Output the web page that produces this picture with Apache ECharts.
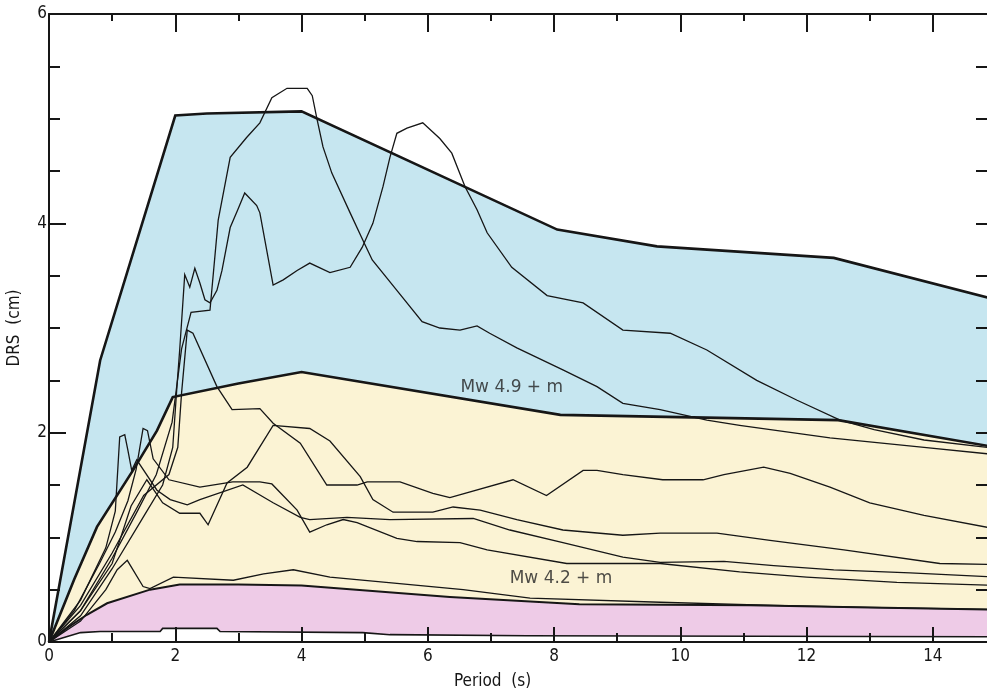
<!DOCTYPE html>
<html>
<head>
<meta charset="utf-8">
<script src="https://cdn.jsdelivr.net/npm/echarts@6/dist/echarts.min.js"></script>
<style>
  html, body { margin: 0; padding: 0; background: #ffffff; }
  #main { width: 987px; height: 697px; }
</style>
</head>
<body>
<div id="main"></div>
<script>
// Displacement response spectra: period (s) vs DRS (cm)
// Envelope curves bounding the magnitude bands
const blueEnvelope = [[0,0],[0.81,2.69],[2.0,5.03],[2.5,5.05],[4.0,5.07],[8.05,3.94],[9.63,3.78],[12.43,3.67],[15,3.27]];
const yellowEnvelope = [[0,0],[0.4,0.6],[0.76,1.10],[1.33,1.64],[1.71,2.02],[1.96,2.34],[3.0,2.47],[4.0,2.58],[8.1,2.17],[12.5,2.12],[15,1.86]];
const pinkEnvelope = [[0,0],[0.3,0.14],[0.6,0.26],[0.92,0.37],[1.6,0.50],[2.07,0.55],[3.0,0.55],[4.0,0.54],[6.35,0.43],[8.4,0.36],[11.1,0.35],[13,0.33],[15,0.31]];
const pinkFloor = [[0,0],[0.5,0.09],[0.81,0.10],[1.76,0.10],[1.8,0.13],[2.66,0.13],[2.71,0.10],[4.97,0.09],[5.4,0.07],[7.57,0.06],[15,0.05]];

// Recorded spectra
const record1 = [[0,0],[0.5,0.3],[1.0,0.8],[1.4,1.25],[1.7,1.6],[1.95,2.1],[2.1,2.8],[2.25,3.15],[2.55,3.17],[2.68,4.03],[2.87,4.63],[3.13,4.82],[3.34,4.96],[3.53,5.2],[3.77,5.29],[4.09,5.29],[4.17,5.22],[4.24,5.01],[4.34,4.73],[4.48,4.48],[4.77,4.1],[4.97,3.84],[5.12,3.65],[5.51,3.36],[5.91,3.06],[6.19,3.0],[6.51,2.98],[6.78,3.02],[6.98,2.95],[7.41,2.81],[8.14,2.6],[8.68,2.44],[9.09,2.28],[9.68,2.22],[10.42,2.12],[10.94,2.07],[12.37,1.95],[13.86,1.86],[15,1.79]];
const record2 = [[0,0],[0.5,0.25],[1.0,0.7],[1.5,1.2],[1.8,1.5],[1.96,1.86],[2.03,2.47],[2.07,2.79],[2.15,3.51],[2.23,3.39],[2.31,3.57],[2.39,3.43],[2.47,3.27],[2.55,3.24],[2.66,3.36],[2.74,3.55],[2.87,3.96],[2.99,4.13],[3.10,4.29],[3.29,4.17],[3.34,4.10],[3.55,3.41],[3.71,3.46],[3.93,3.55],[4.13,3.62],[4.45,3.53],[4.77,3.58],[4.96,3.77],[5.13,4.0],[5.29,4.35],[5.40,4.63],[5.51,4.86],[5.67,4.91],[5.92,4.96],[6.19,4.81],[6.38,4.67],[6.59,4.35],[6.78,4.13],[6.94,3.91],[7.33,3.58],[7.89,3.31],[8.46,3.24],[9.09,2.98],[9.84,2.95],[10.42,2.79],[11.21,2.50],[11.85,2.31],[12.53,2.12],[13.07,2.03],[13.86,1.93],[15,1.85]];
const record3 = [[0,0],[0.5,0.35],[1.0,0.85],[1.5,1.4],[1.9,1.6],[2.04,1.86],[2.1,2.38],[2.19,2.98],[2.28,2.95],[2.66,2.44],[2.9,2.22],[3.34,2.23],[3.55,2.09],[3.98,1.90],[4.4,1.50],[4.88,1.50],[5.04,1.53],[5.56,1.53],[6.08,1.42],[6.35,1.38],[7.35,1.55],[7.88,1.40],[8.46,1.64],[8.68,1.64],[9.09,1.60],[9.72,1.55],[10.36,1.55],[10.69,1.6],[11.32,1.67],[11.74,1.61],[12.37,1.48],[13.0,1.33],[13.86,1.21],[15,1.08]];
const record4 = [[0,0],[0.5,0.3],[1.0,0.75],[1.3,1.3],[1.55,1.55],[1.8,1.33],[2.07,1.23],[2.39,1.23],[2.52,1.12],[2.82,1.52],[3.14,1.67],[3.55,2.07],[4.13,2.04],[4.45,1.92],[4.93,1.58],[5.13,1.36],[5.45,1.24],[6.08,1.24],[6.4,1.29],[6.83,1.26],[7.41,1.17],[8.14,1.07],[9.09,1.02],[9.68,1.04],[10.58,1.04],[11.42,0.97],[12.59,0.88],[14.11,0.75],[15,0.74]];
const record5 = [[0,0],[0.5,0.4],[0.9,0.9],[1.05,1.25],[1.12,1.96],[1.2,1.98],[1.25,1.83],[1.31,1.64],[1.39,1.74],[1.71,1.45],[1.92,1.36],[2.19,1.31],[2.39,1.36],[3.07,1.50],[3.55,1.33],[3.98,1.19],[4.13,1.17],[4.72,1.19],[5.4,1.17],[6.72,1.18],[7.3,1.07],[8.14,0.95],[9.09,0.81],[9.68,0.76],[10.69,0.77],[11.48,0.73],[12.43,0.69],[13.64,0.66],[15,0.62]];
const record6 = [[0,0],[0.4,0.3],[0.8,0.75],[1.05,1.05],[1.25,1.35],[1.38,1.65],[1.49,2.04],[1.56,2.02],[1.65,1.75],[1.9,1.55],[2.39,1.48],[2.91,1.53],[3.34,1.53],[3.53,1.51],[3.93,1.26],[4.13,1.05],[4.4,1.12],[4.66,1.17],[4.88,1.14],[5.51,0.99],[5.83,0.96],[6.51,0.95],[6.94,0.88],[8.2,0.75],[9.68,0.75],[10.94,0.67],[12.0,0.62],[13.43,0.57],[15,0.54]];
const record7 = [[0,0],[0.5,0.2],[0.9,0.5],[1.08,0.69],[1.24,0.78],[1.49,0.53],[1.6,0.51],[1.97,0.62],[2.92,0.59],[3.4,0.65],[3.87,0.69],[4.45,0.62],[5.51,0.56],[6.56,0.50],[7.62,0.42],[9.68,0.38],[11.48,0.35],[12.96,0.33],[15,0.31]];

// Band labels and where they sit (period, DRS)
const bandLabels = ['Mw 4.9 + m', 'Mw 4.2 + m'];
const bandLabelAt = [[7.33, 2.43], [8.11, 0.61]];

const xMajorTicks = 2;
const yMajorTicks = 2;

const FONT = "'Liberation Sans Narrow','DejaVu Sans Condensed','Liberation Sans',sans-serif";
const INK = '#161616';

function fill(data, color) {
  return {
    type: 'line', data: data, symbol: 'none', silent: true, z: 1,
    lineStyle: { width: 0, opacity: 0 },
    areaStyle: { color: color, opacity: 1 }
  };
}
function stroke(data, width) {
  return {
    type: 'line', data: data, symbol: 'none', silent: true, z: 4,
    lineStyle: { width: width, color: INK, join: 'miter' }
  };
}

const tickStyle = { color: INK, width: 2 };

// Frame axis on one side of the plot: optional line, inward ticks, no labels
function frameAxis(pos, max, step, len, withLine) {
  return {
    type: 'value', min: 0, max: max, interval: step, position: pos, z: 3,
    axisLine: { show: withLine, onZero: false, lineStyle: { color: INK, width: 2 } },
    axisTick: { inside: true, length: len, lineStyle: tickStyle },
    axisLabel: { show: false }, splitLine: { show: false }
  };
}

const chart = echarts.init(document.getElementById('main'));
chart.setOption({
  animation: false,
  backgroundColor: '#ffffff',
  // the frame runs a little past the right edge of the canvas
  grid: { left: 49, top: 14, width: 947, height: 628, outerBoundsMode: 'none', containLabel: false },
  xAxis: [
    {
      type: 'value', min: 0, max: 15, interval: xMajorTicks, position: 'bottom', z: 3,
      axisLine: { onZero: false, lineStyle: { color: INK, width: 2 } },
      axisTick: { inside: true, length: 15, lineStyle: tickStyle },
      axisLabel: { margin: 6, fontSize: 17, color: INK, fontFamily: FONT, showMaxLabel: false },
      splitLine: { show: false },
      name: 'Period  (s)', nameLocation: 'middle', nameGap: 31,
      nameTextStyle: { fontSize: 17, color: INK, fontFamily: FONT, padding: [0, 60, 0, 0] }
    },
    frameAxis('bottom', 15, 1, 9, false),
    frameAxis('top', 15, xMajorTicks, 18, true),
    frameAxis('top', 15, 1, 7, false)
  ],
  yAxis: [
    {
      type: 'value', min: 0, max: 6, interval: yMajorTicks, position: 'left', z: 3,
      axisLine: { onZero: false, lineStyle: { color: INK, width: 2 } },
      axisTick: { inside: true, length: 17, lineStyle: tickStyle },
      axisLabel: { margin: 2, fontSize: 17, color: INK, fontFamily: FONT },
      splitLine: { show: false },
      name: 'DRS  (cm)', nameLocation: 'middle', nameGap: 26, nameRotate: 90,
      nameTextStyle: { fontSize: 17, color: INK, fontFamily: FONT }
    },
    frameAxis('left', 6, 0.5, 11, false),
    frameAxis('right', 6, 0.5, 20, true)
  ],
  series: [
    fill(blueEnvelope, '#c6e6f0'),
    fill(yellowEnvelope, '#fbf3d4'),
    fill(pinkEnvelope, '#eecbe7'),
    fill(pinkFloor, '#ffffff'),
    stroke(record1, 1.3),
    stroke(record2, 1.3),
    stroke(record3, 1.3),
    stroke(record4, 1.3),
    stroke(record5, 1.3),
    stroke(record6, 1.3),
    stroke(record7, 1.3),
    stroke(pinkFloor, 1.6),
    stroke(pinkEnvelope, 2),
    stroke(yellowEnvelope, 2.6),
    stroke(blueEnvelope, 2.6),
    {
      type: 'scatter', symbolSize: 0, silent: true, z: 5,
      data: bandLabels.map((t, i) => ({ name: t, value: bandLabelAt[i] })),
      label: {
        show: true, position: 'inside', formatter: '{b}',
        fontSize: 17, color: '#222', fontFamily: "'DejaVu Sans',sans-serif"
      }
    }
  ]
});
</script>
</body>
</html>
